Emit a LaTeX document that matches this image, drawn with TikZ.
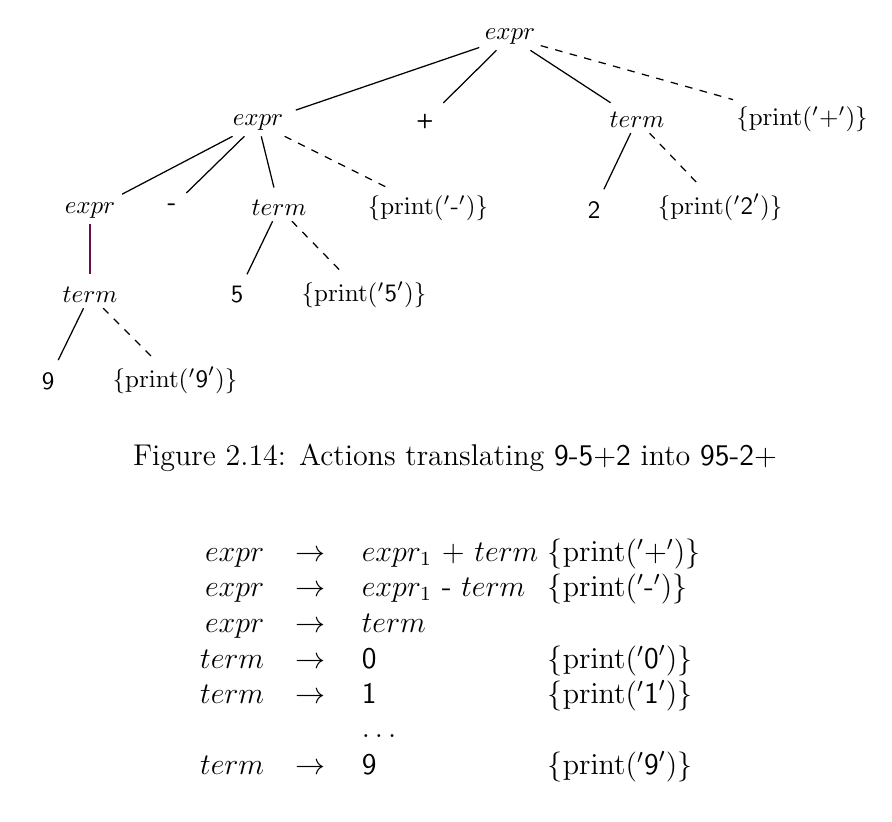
\documentclass[tikz,border=0pt]{standalone}
\usepackage{tikz}
\definecolor{edgepurple}{rgb}{0.42,0.05,0.30}
\tikzset{
    sym/.style={inner sep=2pt},
    treeedge/.style={line width=0.5pt, shorten >=3pt},
    actedge/.style={line width=0.5pt, dash pattern=on 3pt off 3pt, shorten >=2pt},
    row/.style={font=\fontsize{12}{14}\selectfont}
}
\newcommand{\act}[1]{$\{\mathrm{print}('\mbox{\textsf{#1}}')\}$}
\begin{document}
\begin{tikzpicture}[x=0.4pt, y=-0.4pt]
    % Page frame
    \useasboundingbox (0,0) rectangle (892,821);

    % Parse tree nodes
    \node[sym] (root) at (510,37) {$expr$};
    \node[sym] (e1) at (258,123) {$expr$};
    \node[sym] (plus) at (425,121) {\footnotesize\textsf{\textbf{+}}};
    \node[sym] (t1) at (637,120) {$term$};
    \node[sym] (aplus) at (802,119) {\act{+}};
    \node[sym] (e2) at (90,211) {$expr$};
    \node[sym] (minus) at (172,207) {\textsf{\textbf{-}}};
    \node[sym] (t2) at (279,208) {$term$};
    \node[sym] (aminus) at (428,208) {\act{-}};
    \node[sym] (two) at (594,210) {\textsf{2}};
    \node[sym] (atwo) at (720,207) {\act{2}};
    \node[sym] (t3) at (90,295) {$term$};
    \node[sym] (five) at (237,295) {\textsf{5}};
    \node[sym] (afive) at (364,295) {\act{5}};
    \node[sym] (nine) at (48,381) {\textsf{9}};
    \node[sym] (anine) at (175,380) {\act{9}};

    % Tree edges
    \draw[treeedge] (root) -- (e1);
    \draw[treeedge] (root) -- (plus);
    \draw[treeedge] (root) -- (t1);
    \draw[actedge] (root) -- (aplus);
    \draw[treeedge] (e1) -- (e2);
    \draw[treeedge] (e1) -- (minus);
    \draw[treeedge] (e1) -- (t2);
    \draw[actedge] (e1) -- (aminus);
    \draw[treeedge] (t1) -- (two);
    \draw[actedge] (t1) -- (atwo);
    \draw[treeedge, edgepurple] (e2) -- (t3);
    \draw[treeedge] (t2) -- (five);
    \draw[actedge] (t2) -- (afive);
    \draw[treeedge] (t3) -- (nine);
    \draw[actedge] (t3) -- (anine);

    % Caption
    \node[font=\fontsize{12}{14}\selectfont] (caption) at (455,458) {Figure 2.14: Actions translating \textsf{9-5+2} into \textsf{95-2+}};

    % Translation scheme
    \node[row, anchor=mid east] (l1) at (273,556) {$expr$};
    \node[row, anchor=mid] (r1) at (310,556) {$\rightarrow$};
    \node[row, anchor=mid west] (b1) at (353,556) {$expr_1$ \textsf{+} $term$};
    \node[row, anchor=mid west] (p1) at (539,556) {\act{+}};

    \node[row, anchor=mid east] (l2) at (273,591) {$expr$};
    \node[row, anchor=mid] (r2) at (310,591) {$\rightarrow$};
    \node[row, anchor=mid west] (b2) at (353,591) {$expr_1$ \textsf{-} $term$};
    \node[row, anchor=mid west] (p2) at (539,591) {\act{-}};

    \node[row, anchor=mid east] (l3) at (273,627) {$expr$};
    \node[row, anchor=mid] (r3) at (310,627) {$\rightarrow$};
    \node[row, anchor=mid west] (b3) at (353,627) {$term$};

    \node[row, anchor=mid east] (l4) at (273,663) {$term$};
    \node[row, anchor=mid] (r4) at (310,663) {$\rightarrow$};
    \node[row, anchor=mid west] (b4) at (353,663) {\textsf{0}};
    \node[row, anchor=mid west] (p4) at (539,663) {\act{0}};

    \node[row, anchor=mid east] (l5) at (273,698) {$term$};
    \node[row, anchor=mid] (r5) at (310,698) {$\rightarrow$};
    \node[row, anchor=mid west] (b5) at (353,698) {\textsf{1}};
    \node[row, anchor=mid west] (p5) at (539,698) {\act{1}};

    \node[row, anchor=base west] (dots) at (353,737) {$\ldots$};

    \node[row, anchor=mid east] (l6) at (273,769) {$term$};
    \node[row, anchor=mid] (r6) at (310,769) {$\rightarrow$};
    \node[row, anchor=mid west] (b6) at (353,769) {\textsf{9}};
    \node[row, anchor=mid west] (p6) at (539,769) {\act{9}};
\end{tikzpicture}
\end{document}
